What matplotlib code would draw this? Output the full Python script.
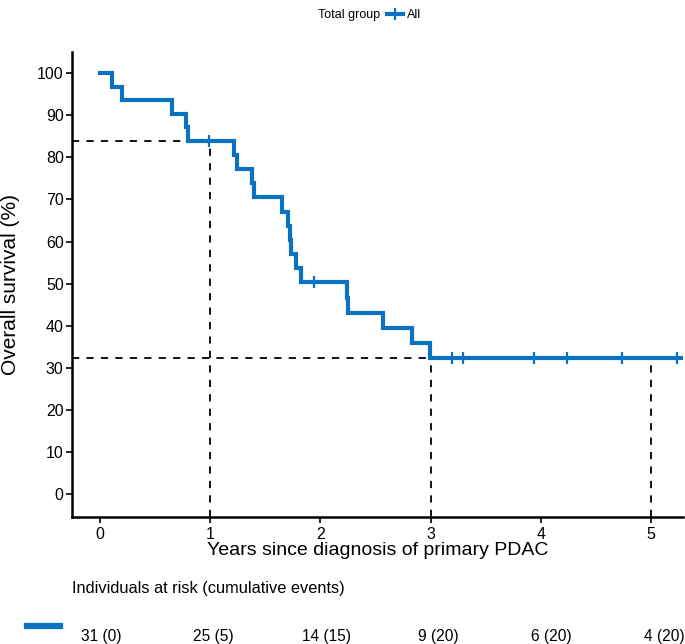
import matplotlib
matplotlib.use("Agg")
import matplotlib.pyplot as plt
from matplotlib.lines import Line2D
import numpy as np

plt.rcParams['font.family'] = ['Liberation Sans', 'DejaVu Sans']

# Kaplan-Meier step data
step_times = [0, 0.11, 0.20, 0.65, 0.78, 0.80, 1.22, 1.24, 1.38, 1.40, 1.65,
              1.71, 1.72, 1.73, 1.78, 1.82, 2.24, 2.25, 2.57, 2.83, 2.99]
step_surv = [100, 96.8, 93.5, 90.3, 87.1, 83.9, 80.5, 77.2, 73.8, 70.5, 67.1,
             63.7, 60.4, 57.0, 53.7, 50.3, 46.7, 43.1, 39.5, 35.9, 32.4]
end_time = 5.27
censor_times = [0.99, 1.94, 3.19, 3.29, 3.94, 4.24, 4.74, 5.24]

# reference lines (time, survival)
ref_points = [(1, 83.9), (3, 32.4)]
ref_extra = (5, 32.4)

# risk table
risk_times = [0, 1, 2, 3, 4, 5]
at_risk = [31, 25, 14, 9, 6, 4]
cum_events = [0, 5, 15, 20, 20, 20]

xticks = [0, 1, 2, 3, 4, 5]
yticks = [0, 10, 20, 30, 40, 50, 60, 70, 80, 90, 100]

blue = '#0A72C0'
W, H = 685, 644
fig = plt.figure(figsize=(W / 100, H / 100), dpi=100)
ax = fig.add_axes([72 / W, 1 - 517 / H, (683 - 72) / W, (517 - 52) / H])

xmin, xmax = -0.254, 5.29
ymin, ymax = -5.4, 105
ax.set_xlim(xmin, xmax)
ax.set_ylim(ymin, ymax)

# dashed reference lines
for t, s in ref_points:
    ax.plot([xmin, t], [s, s], ls=(0, (4, 4)), color='black', lw=1.3, zorder=2)
    ax.plot([t, t], [ymin, s], ls=(0, (4, 4)), color='black', lw=1.3, zorder=2)
ax.plot([ref_extra[0], ref_extra[0]], [ymin, ref_extra[1]], ls=(0, (4, 4)),
        color='black', lw=1.3, zorder=2)

# KM curve
xs = list(step_times) + [end_time]
ys = list(step_surv) + [step_surv[-1]]
ax.step(xs, ys, where='post', color=blue, lw=3, zorder=3, solid_joinstyle='miter')

# censor marks
cs = []
for c in censor_times:
    idx = np.searchsorted(step_times, c, side='right') - 1
    cs.append(step_surv[idx])
ax.plot(censor_times, cs, ls='none', marker='+', ms=9, mew=1.6, color=blue, zorder=4)

ax.set_xticks(xticks)
ax.set_yticks(yticks)
ax.tick_params(labelsize=11.5, width=1.2, length=4, colors='black', pad=2)
ax.tick_params(axis='x', pad=3)
for sp in ['top', 'right']:
    ax.spines[sp].set_visible(False)
for sp in ['left', 'bottom']:
    ax.spines[sp].set_linewidth(1.8)
ax.set_xlabel('Years since diagnosis of primary PDAC', fontsize=14, labelpad=0)
ax.set_ylabel('Overall survival (%)', fontsize=15)
ax.yaxis.set_label_coords(-52 / (683 - 72), 0.5)

# legend at top
fig.text(380 / W, 1 - 15 / H, 'Total group', ha='right', va='center', fontsize=9)
handle = Line2D([], [], color=blue, lw=3, marker='+', ms=9, mew=1.6)
fig.legend(handles=[handle], labels=['All'], loc='center left',
           bbox_to_anchor=(387 / W, 1 - 15 / H), frameon=False, fontsize=9,
           handlelength=1.25, handletextpad=0.35, borderpad=0, borderaxespad=0)

# risk table
tab = fig.add_axes([0, 0, 1, 1 - 560 / H])
tab.set_xlim(-0.897, 5.187)
tab.set_ylim(0, 84)
tab.axis('off')
fig.text(72 / W, 1 - 588 / H, 'Individuals at risk (cumulative events)',
         ha='left', va='center', fontsize=11.8)
for t, n, e in zip(risk_times, at_risk, cum_events):
    tab.text(t, 644 - 637, f'{n} ({e})', ha='center', va='center', fontsize=11.2)
fig.add_artist(Line2D([27 / W, 60 / W], [1 - 626 / H, 1 - 626 / H], color=blue, lw=4.5))

fig.savefig('out.png', dpi=100)
